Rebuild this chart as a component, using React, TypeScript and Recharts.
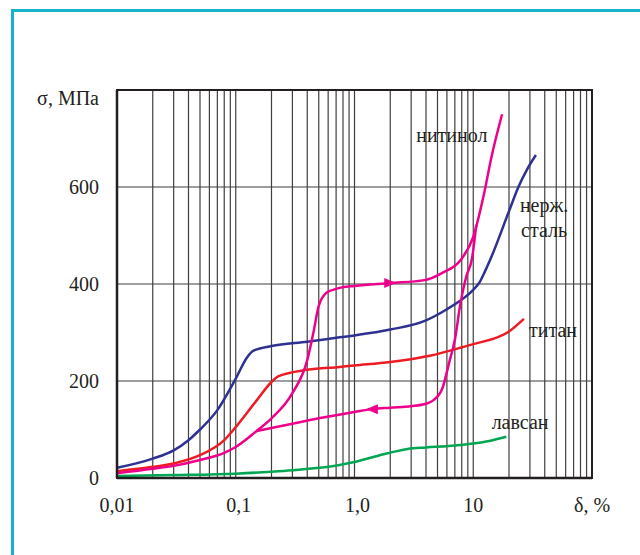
import React from "react";
import {
  LineChart,
  Line,
  XAxis,
  YAxis,
  CartesianGrid,
  ReferenceArea,
  ReferenceDot,
} from "recharts";

// δ, % (log) -> σ, МПа
const steelData = [
  { x: 0.01, y: 21 }, { x: 0.02, y: 40 }, { x: 0.03, y: 57 }, { x: 0.04, y: 78 },
  { x: 0.05, y: 100 }, { x: 0.07, y: 140 }, { x: 0.1, y: 205 }, { x: 0.124, y: 248 },
  { x: 0.14, y: 262 }, { x: 0.2, y: 272 }, { x: 0.4, y: 281 }, { x: 0.75, y: 290 },
  { x: 1, y: 294 }, { x: 2, y: 306 }, { x: 4, y: 325 }, { x: 6, y: 348 },
  { x: 8, y: 368 }, { x: 10, y: 388 }, { x: 11.4, y: 405 }, { x: 12.5, y: 425 },
  { x: 14, y: 452 }, { x: 20, y: 550 }, { x: 24, y: 600 }, { x: 28.5, y: 637 },
  { x: 33.7, y: 666 },
];

const titanData = [
  { x: 0.01, y: 14 }, { x: 0.02, y: 23 }, { x: 0.03, y: 30 }, { x: 0.05, y: 47 },
  { x: 0.08, y: 78 }, { x: 0.1, y: 105 }, { x: 0.15, y: 160 }, { x: 0.2, y: 198 },
  { x: 0.23, y: 210 }, { x: 0.4, y: 223 }, { x: 0.75, y: 229 }, { x: 1, y: 232 },
  { x: 2, y: 239 }, { x: 4.3, y: 252 }, { x: 8.2, y: 270 }, { x: 10, y: 276 },
  { x: 20, y: 302 }, { x: 26.7, y: 328 },
];

const lavsanData = [
  { x: 0.01, y: 4 }, { x: 0.03, y: 6 }, { x: 0.1, y: 9 }, { x: 0.2, y: 13 },
  { x: 0.3, y: 16 }, { x: 0.5, y: 21 }, { x: 0.75, y: 27 }, { x: 1, y: 33 },
  { x: 1.9, y: 51 }, { x: 2.8, y: 60 }, { x: 4, y: 63 }, { x: 6.2, y: 66 },
  { x: 9.2, y: 70 }, { x: 14, y: 77 }, { x: 19, y: 85 },
];

// нитинол: loading branch and unloading branch (hysteresis)
const nitinolLoad = [
  { x: 0.01, y: 10 }, { x: 0.02, y: 19 }, { x: 0.03, y: 25 }, { x: 0.05, y: 37 },
  { x: 0.08, y: 52 }, { x: 0.1, y: 64 }, { x: 0.15, y: 97 }, { x: 0.2, y: 123 },
  { x: 0.3, y: 175 }, { x: 0.4, y: 243 }, { x: 0.45, y: 299 }, { x: 0.5, y: 355 },
  { x: 0.58, y: 382 }, { x: 0.66, y: 388 }, { x: 0.75, y: 392 }, { x: 1, y: 396 },
  { x: 2, y: 402, arrow: "right" }, { x: 3.9, y: 408 }, { x: 5.5, y: 423 },
  { x: 7.8, y: 449 }, { x: 10, y: 497 }, { x: 12.3, y: 585 }, { x: 14.3, y: 664 },
  { x: 17.5, y: 750 },
];

const nitinolUnload = [
  { x: 0.15, y: 97 }, { x: 0.3, y: 112 }, { x: 0.5, y: 123 }, { x: 1, y: 136 },
  { x: 1.4, y: 142, arrow: "left" }, { x: 2, y: 145 }, { x: 3, y: 148 }, { x: 4, y: 153 },
  { x: 4.6, y: 160 }, { x: 5.5, y: 185 }, { x: 6.3, y: 240 }, { x: 7, y: 285 },
  { x: 7.8, y: 360 }, { x: 8.7, y: 414 }, { x: 9.8, y: 455 }, { x: 10.6, y: 522 },
];

const decades = [0.01, 0.1, 1, 10];
const xLabelValues = [0.01, 0.1, 1, 10, 100];
const xLabelTexts = ["0,01", "0,1", "1,0", "10", "δ, %"];
const yTicks = [0, 200, 400, 600, 800];
const yTickTexts = ["0", "200", "400", "600", "σ, МПа"];

const curveLabels = [
  { x: 6.6, y: 707, text: "нитинол" },
  { x: 39.5, y: 563, text: "нерж." },
  { x: 39.5, y: 511, text: "сталь" },
  { x: 47, y: 305, text: "титан" },
  { x: 24.8, y: 115, text: "лавсан" },
];

// grid lines at 1..9 of every decade
const xTicks: number[] = [];
decades.forEach((d) => {
  for (let k = 1; k <= 9; k++) xTicks.push(+(d * k).toPrecision(3));
});
xTicks.push(100);

const FONT = "Liberation Serif, Times New Roman, Times, serif";
const INK = "#231F20";
const FS = 20;
const textStyle = { fontFamily: FONT, fontSize: FS };

const XTick = ({ x, payload }: any) => {
  const i = xLabelValues.findIndex((v) => Math.abs(v - payload.value) < 1e-9);
  if (i < 0) return <g />;
  return (
    <text x={x + (i > 0 && i < 3 ? 3 : 0)} y={478 + 27} textAnchor="middle" dominantBaseline="central"
      fontFamily={FONT} style={textStyle} fill={INK}>
      {xLabelTexts[i]}
    </text>
  );
};

const YTick = ({ y, payload }: any) => {
  const i = yTicks.indexOf(payload.value);
  const isTitle = payload.value === 800;
  return (
    <text x={117 - 18} y={isTitle ? y + 8 : y} textAnchor="end" dominantBaseline="central"
      fontFamily={FONT} style={textStyle} fill={INK}>
      {yTickTexts[i]}
    </text>
  );
};

const ArrowDot = (props: any) => {
  const { cx, cy, payload, stroke, index } = props;
  if (!payload || !payload.arrow) return <g key={index} />;
  const d = payload.arrow === "right" ? 1 : -1;
  return (
    <path key={index}
      d={`M${cx + d * 6},${cy} L${cx - d * 6},${cy - 5} L${cx - d * 6},${cy + 5} Z`}
      fill={stroke} />
  );
};

export default function App() {
  return (
    <div style={{ position: "absolute", left: 0, top: 0, width: 640, height: 555, background: "#fff", overflow: "hidden", fontFamily: FONT }}>
      {/* рамка */}
      <div style={{ position: "absolute", left: 11, top: 9, width: 700, height: 700, borderLeft: "3px solid #19B2CC", borderTop: "3px solid #19B2CC" }} />
      <div style={{ position: "absolute", left: 0, top: 0 }}>
        <LineChart width={640} height={555} margin={{ top: 90, right: 48, bottom: 76, left: 116 }}
          style={{ fontFamily: FONT }}>
          <CartesianGrid stroke="#3f3f3f" strokeWidth={1.2} />
          <XAxis dataKey="x" type="number" scale="log" domain={[0.01, 100]} allowDataOverflow
            ticks={xTicks} interval={0} height={1} tickSize={0} tickMargin={0}
            tickLine={false} tick={<XTick />} axisLine={{ stroke: INK, strokeWidth: 2.5 }} />
          <YAxis type="number" domain={[0, 800]} ticks={yTicks} interval={0} width={1}
            tickSize={0} tickMargin={0} tickLine={false} tick={<YTick />}
            axisLine={{ stroke: INK, strokeWidth: 2.5 }} />
          <ReferenceArea x1={0.01} x2={100} y1={0} y2={800} fill="none" fillOpacity={0}
            stroke={INK} strokeWidth={2} />

          <Line data={lavsanData} dataKey="y" type="monotone" stroke="#00A651" strokeWidth={2.5} dot={false} isAnimationActive={false} />
          <Line data={titanData} dataKey="y" type="monotone" stroke="#ED1C24" strokeWidth={2.5} dot={false} isAnimationActive={false} />
          <Line data={steelData} dataKey="y" type="monotone" stroke="#2E3192" strokeWidth={2.5} dot={false} isAnimationActive={false} />
          <Line data={nitinolUnload} dataKey="y" type="monotone" stroke="#EC008C" strokeWidth={2.5} dot={<ArrowDot />} isAnimationActive={false} />
          <Line data={nitinolLoad} dataKey="y" type="monotone" stroke="#EC008C" strokeWidth={2.5} dot={<ArrowDot />} isAnimationActive={false} />

          {curveLabels.map((l) => (
            <ReferenceDot key={l.text} x={l.x} y={l.y} r={0} fill="none" stroke="none"
              label={{ value: l.text, position: "center", fontFamily: FONT, style: textStyle, fill: INK }} />
          ))}
        </LineChart>
      </div>
    </div>
  );
}
